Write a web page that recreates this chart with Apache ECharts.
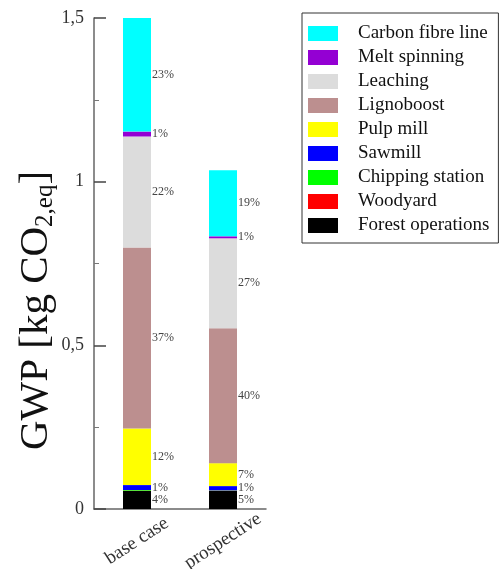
<!DOCTYPE html>
<html>
<head>
<meta charset="utf-8">
<script src="https://cdn.jsdelivr.net/npm/echarts@6/dist/echarts.min.js"></script>
<style>
  html, body { margin: 0; padding: 0; background: #fff; }
  #chart { width: 504px; height: 569px; }
</style>
</head>
<body>
<div id="chart"></div>
<script>
// categories on the x axis
var cases = ['base case', 'prospective'];

// stack order, bottom -> top
var stageNames = ['Forest operations', 'Woodyard', 'Chipping station', 'Sawmill', 'Pulp mill',
                  'Lignoboost', 'Leaching', 'Melt spinning', 'Carbon fibre line'];
var stageColors = ['#000000', '#ff0000', '#00ff00', '#0000ff', '#ffff00',
                   '#bc8f8f', '#dcdcdc', '#9400d3', '#00ffff'];

// GWP per stage [base case, prospective]  (kg CO2,eq)
var forestOps   = [0.055, 0.055];
var woodyard    = [0.001, 0.001];
var chipping    = [0.002, 0.001];
var sawmill     = [0.015, 0.013];
var pulpMill    = [0.173, 0.070];
var lignoboost  = [0.553, 0.412];
var leaching    = [0.339, 0.275];
var meltSpin    = [0.015, 0.006];
var carbonFibre = [0.347, 0.202];

// share labels written next to the bars
var forestPct   = ['4%', '5%'];
var woodPct     = ['', ''];
var chipPct     = ['', ''];
var sawPct      = ['1%', '1%'];
var pulpPct     = ['12%', '7%'];
var lignoPct    = ['37%', '40%'];
var leachPct    = ['22%', '27%'];
var meltPct     = ['1%', '1%'];
var carbonPct   = ['23%', '19%'];

// y axis ticks
var yTicks = [0, 0.5, 1, 1.5];

var stageValues = [forestOps, woodyard, chipping, sawmill, pulpMill, lignoboost, leaching, meltSpin, carbonFibre];
var stagePcts = [forestPct, woodPct, chipPct, sawPct, pulpPct, lignoPct, leachPct, meltPct, carbonPct];

var serif = '"Liberation Serif", "DejaVu Serif", serif';

var series = [];
for (var i = 0; i < stageNames.length; i++) {
  (function (idx) {
    series.push({
      name: stageNames[idx],
      type: 'bar',
      stack: 'gwp',
      barWidth: 28,
      itemStyle: { color: stageColors[idx] },
      label: {
        show: true,
        position: 'right',
        distance: 1,
        color: '#444',
        fontFamily: serif,
        fontSize: 12,
        formatter: function (p) { return stagePcts[idx][p.dataIndex]; }
      },
      data: stageValues[idx]
    });
  })(i);
}

var chart = echarts.init(document.getElementById('chart'), null, { renderer: 'canvas' });
chart.setOption({
  backgroundColor: '#fff',
  animation: false,
  grid: { left: 94, right: 238, top: 18, bottom: 60, outerBoundsMode: 'none' },
  legend: {
    orient: 'vertical',
    left: 302,
    top: 13,
    data: stageNames.slice().reverse(),
    icon: 'rect',
    itemWidth: 30,
    itemHeight: 15,
    itemGap: 5,
    padding: [11, 9, 8, 6],
    borderColor: '#333',
    borderWidth: 1,
    selectedMode: false,
    textStyle: {
      fontFamily: serif,
      fontSize: 19,
      color: '#111',
      padding: [0, 0, 0, 15]
    }
  },
  xAxis: {
    type: 'category',
    data: cases,
    axisLine: { lineStyle: { color: '#666', width: 1.5 } },
    axisTick: { show: false },
    axisLabel: {
      interval: 0,
      rotate: 33,
      margin: 32,
      align: 'center',
      verticalAlign: 'middle',
      fontFamily: serif,
      fontSize: 19,
      color: '#333'
    }
  },
  yAxis: {
    type: 'value',
    min: yTicks[0],
    max: yTicks[yTicks.length - 1],
    interval: 0.5,
    splitLine: { show: false },
    axisLine: { show: true, lineStyle: { color: '#666', width: 1.5 } },
    axisTick: { show: true, inside: true, length: 12, lineStyle: { color: '#444', width: 1.5 } },
    minorTick: { show: true, splitNumber: 2, length: 5, lineStyle: { color: '#777' } },
    axisLabel: {
      margin: 10,
      fontFamily: serif,
      fontSize: 18,
      color: '#333',
      formatter: function (v) { return String(v).replace('.', ','); }
    },
    name: '{m|GWP [kg CO}{s|2,eq}{m|]}',
    nameLocation: 'middle',
    nameGap: 32,
    nameTextStyle: {
      padding: [0, 94, 0, 0],
      rich: {
        m: { fontFamily: serif, fontSize: 41, color: '#111' },
        s: { fontFamily: serif, fontSize: 25, color: '#111', padding: [18, 0, 0, 0] }
      }
    }
  },
  series: series
});
</script>
</body>
</html>
